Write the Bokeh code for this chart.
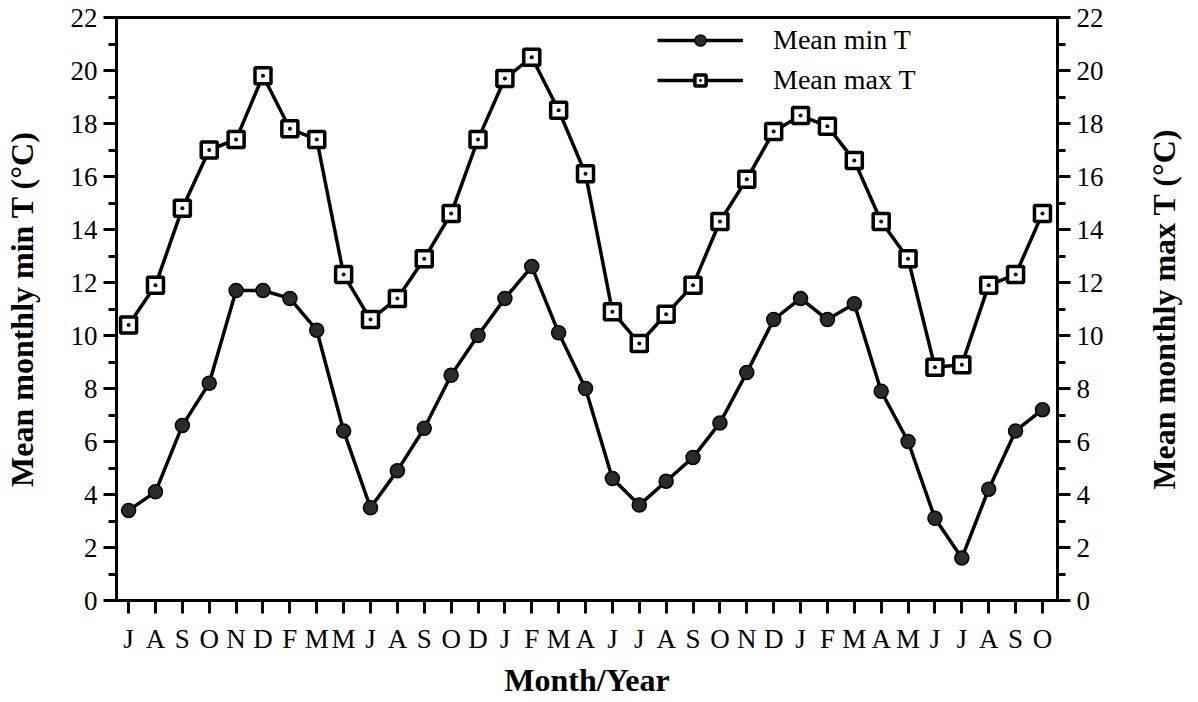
import math
from bokeh.plotting import figure
from bokeh.layouts import row
from bokeh.models import (LinearAxis, FixedTicker, SingleIntervalTicker, Range1d,
                          Legend, LegendItem, Title)
from bokeh.embed import file_html
from bokeh.resources import INLINE

months = ["J", "A", "S", "O", "N", "D", "F", "M", "M", "J", "A", "S", "O", "D",
          "J", "F", "M", "A", "J", "J", "A", "S", "O", "N", "D", "J", "F", "M",
          "A", "M", "J", "J", "A", "S", "O"]
mean_min_t = [3.4, 4.1, 6.6, 8.2, 11.7, 11.7, 11.4, 10.2, 6.4, 3.5, 4.9, 6.5,
              8.5, 10.0, 11.4, 12.6, 10.1, 8.0, 4.6, 3.6, 4.5, 5.4, 6.7, 8.6,
              10.6, 11.4, 10.6, 11.2, 7.9, 6.0, 3.1, 1.6, 4.2, 6.4, 7.2]
mean_max_t = [10.4, 11.9, 14.8, 17.0, 17.4, 19.8, 17.8, 17.4, 12.3, 10.6, 11.4,
              12.9, 14.6, 17.4, 19.7, 20.5, 18.5, 16.1, 10.9, 9.7, 10.8, 11.9,
              14.3, 15.9, 17.7, 18.3, 17.9, 16.6, 14.3, 12.9, 8.8, 8.9, 11.9,
              12.3, 14.6]

x = list(range(len(months)))
FONT = "Liberation Serif"

p = figure(width=1107, height=700, output_backend="svg", toolbar_location=None,
           x_range=Range1d(-0.45, 34.56), y_range=Range1d(0, 22),
           min_border_left=116, min_border_right=50, min_border_top=17,
           min_border_bottom=98)
p.xgrid.visible = False
p.ygrid.visible = False
p.outline_line_color = "black"
p.outline_line_width = 3
p.background_fill_color = "white"
p.border_fill_color = "white"

l1 = p.line(x, mean_min_t, line_color="black", line_width=3.5)
s1 = p.scatter(x, mean_min_t, marker="circle", size=14, fill_color="#2b2b2b",
               line_color="black", line_width=1.5)
l2 = p.line(x, mean_max_t, line_color="black", line_width=3.5)
s2 = p.scatter(x, mean_max_t, marker="square_dot", size=16, fill_color="white",
               line_color="black", line_width=3.5)

def style_axis(ax):
    ax.axis_line_width = 3
    ax.axis_line_color = "black"
    ax.major_tick_line_width = 3
    ax.minor_tick_line_width = 3
    ax.major_tick_in = 0
    ax.major_tick_out = 13
    ax.minor_tick_in = 0
    ax.minor_tick_out = 8
    ax.major_label_text_font = FONT
    ax.major_label_text_font_size = "27px"
    ax.major_label_text_color = "black"
    ax.axis_label_text_font = FONT
    ax.axis_label_text_font_size = "32px"
    ax.axis_label_text_font_style = "bold"
    ax.axis_label_text_color = "black"

xa = p.xaxis[0]
style_axis(xa)
xa.ticker = FixedTicker(ticks=x)
xa.major_label_overrides = {i: m for i, m in enumerate(months)}
xa.major_label_standoff = 10
xa.axis_label = "Month/Year"
xa.axis_label_standoff = 5

ya = p.yaxis[0]
style_axis(ya)
ya.ticker = SingleIntervalTicker(interval=2, num_minor_ticks=2)
ya.major_label_standoff = 6
ya.axis_label = "Mean monthly min T (°C)"
ya.axis_label_standoff = 28

yr = LinearAxis(ticker=SingleIntervalTicker(interval=2, num_minor_ticks=2))
style_axis(yr)
yr.major_label_standoff = 6
p.add_layout(yr, "right")

legend = Legend(items=[LegendItem(label="Mean min T", renderers=[l1, s1]),
                       LegendItem(label="Mean max T", renderers=[l2, s2])],
                location=(541, 504), border_line_color=None,
                background_fill_alpha=0, glyph_width=86, glyph_height=28,
                label_height=28, label_standoff=30, spacing=8, padding=0,
                margin=0, label_text_font=FONT, label_text_font_size="28px",
                label_text_color="black")
p.add_layout(legend)

# side panel carrying the right-hand axis title (reads bottom-to-top)
q = figure(width=83, height=700, output_backend="svg", toolbar_location=None,
           x_range=Range1d(0, 1), y_range=Range1d(0, 1),
           min_border_left=79, min_border_right=0, min_border_top=17,
           min_border_bottom=98)
q.axis.visible = False
q.grid.visible = False
q.outline_line_color = None
q.background_fill_color = "white"
q.border_fill_color = "white"
q.add_layout(Title(text="Mean monthly max T (°C)", align="center",
                   text_font=FONT, text_font_size="32px",
                   text_font_style="bold", text_color="black"), "left")

layout = row(p, q, spacing=0)
open("out.html", "w").write(file_html(layout, INLINE))
